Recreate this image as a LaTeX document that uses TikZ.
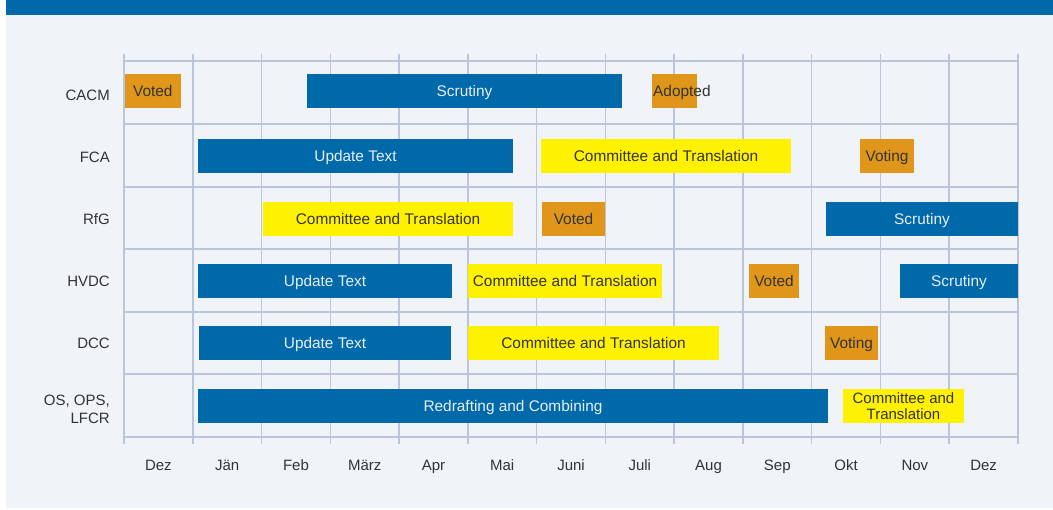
\documentclass[tikz,border=0pt]{standalone}
\usepackage{fontspec}
\setmainfont{Liberation Sans}
\definecolor{barblue}{HTML}{0069AA}
\definecolor{barorange}{HTML}{E0961A}
\definecolor{baryellow}{HTML}{FFF200}
\definecolor{panel}{HTML}{F0F3F8}
\definecolor{gridc}{HTML}{BCC6DA}
\definecolor{txt}{HTML}{333333}
\definecolor{lighttxt}{HTML}{E8EEF6}
\tikzset{
  bar/.style={minimum height=34pt, inner sep=0pt, outer sep=0pt, font=\fontsize{15.4}{17}\selectfont},
  oneline/.style={text height=13pt, text depth=2pt},
  bluebar/.style={bar, oneline, fill=barblue, text=lighttxt},
  orangebar/.style={bar, oneline, fill=barorange, text=txt},
  yellowbar/.style={bar, oneline, fill=baryellow, text=txt},
  rowlabel/.style={anchor=east, align=right, text=txt, font=\fontsize{15}{17.7}\selectfont, inner sep=0pt},
  monthlabel/.style={oneline, text=txt, font=\fontsize{15}{17}\selectfont, inner sep=0pt},
  gridline/.style={draw=gridc, line width=1.5pt}
}
\begin{document}
\begin{tikzpicture}[x=1pt,y=-1pt]
\useasboundingbox (0,0) rectangle (1053,510);
\fill[white] (0,0) rectangle (1053,510);
\fill[panel] (6,15) rectangle (1053,508);
\fill[barblue] (6,0) rectangle (1053,15);
% grid
\foreach \i in {0,...,13} {
  \draw[gridline] ({124+68.77*\i},54) -- ({124+68.77*\i},444);
}
\foreach \y in {61,124,187,249,312,374,437} {
  \draw[gridline] (124,\y) -- (1018,\y);
}
% row labels
\node[rowlabel, oneline] (lcacm) at (110,95) {CACM};
\node[rowlabel, oneline] (lfca) at (110,157) {FCA};
\node[rowlabel, oneline] (lrfg) at (110,219) {RfG};
\node[rowlabel, oneline] (lhvdc) at (110,281) {HVDC};
\node[rowlabel, oneline] (ldcc) at (110,343) {DCC};
\node[rowlabel] (los) at (110,409.5) {OS, OPS,\\LFCR};
% month labels
\foreach \m [count=\k from 0] in {Dez,Jän,Feb,März,Apr,Mai,Juni,Juli,Aug,Sep,Okt,Nov,Dez} {
  \node[monthlabel] (m\k) at ({124+68.77*(\k+0.5)},465) {\m};
}
% CACM
\node[orangebar, minimum width=56.3pt] (cacm1) at (152.85,91.5) {Voted};
\node[bluebar, minimum width=315pt] (cacm2) at (464.5,91.5) {Scrutiny};
\node[orangebar, minimum width=45pt] (cacm3) at (674.5,91.5) {};
\node[anchor=west, inner sep=0pt, oneline, text=txt, font=\fontsize{15.4}{17}\selectfont] (cacm3t) at ([xshift=1pt]cacm3.west) {Adopted};
% FCA
\node[bluebar, minimum width=315pt] (fca1) at (355.5,156) {Update Text};
\node[yellowbar, minimum width=250pt] (fca2) at (666,156) {Committee and Translation};
\node[orangebar, minimum width=54pt] (fca3) at (887,156) {Voting};
% RfG
\node[yellowbar, minimum width=250pt] (rfg1) at (388,219) {Committee and Translation};
\node[orangebar, minimum width=63pt] (rfg2) at (573.5,219) {Voted};
\node[bluebar, minimum width=192pt] (rfg3) at (922,219) {Scrutiny};
% HVDC
\node[bluebar, minimum width=254pt] (hvdc1) at (325,281) {Update Text};
\node[yellowbar, minimum width=194pt] (hvdc2) at (565,281) {Committee and Translation};
\node[orangebar, minimum width=50pt] (hvdc3) at (774,281) {Voted};
\node[bluebar, minimum width=118pt] (hvdc4) at (959,281) {Scrutiny};
% DCC
\node[bluebar, minimum width=252pt] (dcc1) at (325,343) {Update Text};
\node[yellowbar, minimum width=251pt] (dcc2) at (593.5,343) {Committee and Translation};
\node[orangebar, minimum width=53pt] (dcc3) at (851.5,343) {Voting};
% OS
\node[bar, fill=barblue, text=lighttxt, oneline, minimum width=630pt] (os1) at (513,406) {Redrafting and Combining};
\node[bar, fill=baryellow, text=txt, minimum width=121pt, align=center, font=\fontsize{15}{16.7}\selectfont] (os2) at (903.5,406) {Committee and\\Translation};
\end{tikzpicture}
\end{document}
